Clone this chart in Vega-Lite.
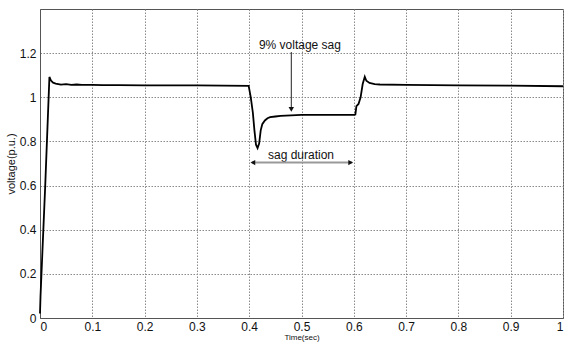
{
  "$schema": "https://vega.github.io/schema/vega-lite/v6.json",
  "width": 523,
  "height": 309,
  "autosize": {"type": "none"},
  "padding": {"left": 40, "top": 9, "right": 1, "bottom": 25},
  "background": "white",
  "config": {
    "font": "Liberation Sans",
    "view": {"stroke": "#555555", "strokeWidth": 1},
    "axis": {
      "domainColor": "#555555",
      "gridColor": "#8a8a8a",
      "gridDash": [1.5, 1.5],
      "gridWidth": 1,
      "ticks": false,
      "labelColor": "#111111",
      "labelFontSize": 12,
      "titleColor": "#111111",
      "titleFontWeight": "normal"
    }
  },
  "datasets": {
    "voltage": [
      {"t": 0, "v": 0.02},
      {"t": 0.001, "v": 0.1},
      {"t": 0.01, "v": 0.6},
      {"t": 0.018, "v": 1.092},
      {"t": 0.021, "v": 1.076},
      {"t": 0.025, "v": 1.066},
      {"t": 0.03, "v": 1.062},
      {"t": 0.035, "v": 1.06},
      {"t": 0.04, "v": 1.057},
      {"t": 0.05, "v": 1.06},
      {"t": 0.06, "v": 1.056},
      {"t": 0.07, "v": 1.058},
      {"t": 0.08, "v": 1.056},
      {"t": 0.1, "v": 1.056},
      {"t": 0.12, "v": 1.055},
      {"t": 0.15, "v": 1.055},
      {"t": 0.2, "v": 1.054},
      {"t": 0.25, "v": 1.054},
      {"t": 0.3, "v": 1.054},
      {"t": 0.35, "v": 1.053},
      {"t": 0.399, "v": 1.052},
      {"t": 0.403, "v": 1.0},
      {"t": 0.407, "v": 0.93},
      {"t": 0.41, "v": 0.85},
      {"t": 0.413, "v": 0.785},
      {"t": 0.416, "v": 0.77},
      {"t": 0.419, "v": 0.79},
      {"t": 0.422, "v": 0.85},
      {"t": 0.425, "v": 0.878},
      {"t": 0.43, "v": 0.895},
      {"t": 0.435, "v": 0.905},
      {"t": 0.44, "v": 0.91},
      {"t": 0.45, "v": 0.913},
      {"t": 0.46, "v": 0.916},
      {"t": 0.48, "v": 0.918},
      {"t": 0.5, "v": 0.92},
      {"t": 0.55, "v": 0.92},
      {"t": 0.6, "v": 0.92},
      {"t": 0.603, "v": 0.922},
      {"t": 0.605, "v": 0.96},
      {"t": 0.609, "v": 0.97},
      {"t": 0.613, "v": 1.0},
      {"t": 0.617, "v": 1.06},
      {"t": 0.621, "v": 1.093},
      {"t": 0.624, "v": 1.075},
      {"t": 0.63, "v": 1.065},
      {"t": 0.64, "v": 1.06},
      {"t": 0.65, "v": 1.058},
      {"t": 0.7, "v": 1.056},
      {"t": 0.8, "v": 1.054},
      {"t": 0.9, "v": 1.053},
      {"t": 1.0, "v": 1.05}
    ]
  },
  "layer": [
    {
      "data": {"name": "voltage"},
      "mark": {"type": "line", "color": "#000000", "strokeWidth": 1.8},
      "encoding": {
        "x": {
          "field": "t", "type": "quantitative",
          "scale": {"domain": [0, 1], "nice": false},
          "axis": {"values": [0, 0.1, 0.2, 0.3, 0.4, 0.5, 0.6, 0.7, 0.8, 0.9, 1], "format": "~g", "title": "Time(sec)", "titleFontSize": 8, "titlePadding": 1, "labelPadding": 3}
        },
        "y": {
          "field": "v", "type": "quantitative",
          "scale": {"domain": [0, 1.4], "nice": false},
          "axis": {"values": [0, 0.2, 0.4, 0.6, 0.8, 1, 1.2], "format": "~g", "title": "voltage(p.u.)", "titleFontSize": 11, "titlePadding": 3, "labelPadding": 4}
        }
      }
    },
    {
      "data": {"values": [{}]},
      "mark": {"type": "text", "fontSize": 12, "color": "#111111", "align": "center", "baseline": "middle"},
      "encoding": {"x": {"datum": 0.497}, "y": {"datum": 1.237}, "text": {"value": "9% voltage sag"}}
    },
    {
      "data": {"values": [{}]},
      "mark": {"type": "rule", "color": "#222222", "strokeWidth": 1},
      "encoding": {"x": {"datum": 0.4805}, "y": {"datum": 1.205}, "y2": {"datum": 0.945}}
    },
    {
      "data": {"values": [{}]},
      "mark": {"type": "point", "shape": "triangle-down", "filled": true, "color": "#111111", "size": 30, "opacity": 1},
      "encoding": {"x": {"datum": 0.4805}, "y": {"datum": 0.945}}
    },
    {
      "data": {"values": [{}]},
      "mark": {"type": "text", "fontSize": 12, "color": "#111111", "align": "center", "baseline": "middle"},
      "encoding": {"x": {"datum": 0.499}, "y": {"datum": 0.74}, "text": {"value": "sag duration"}}
    },
    {
      "data": {"values": [{}]},
      "mark": {"type": "rule", "color": "#999999", "strokeWidth": 2},
      "encoding": {"x": {"datum": 0.405}, "x2": {"datum": 0.597}, "y": {"datum": 0.704}}
    },
    {
      "data": {"values": [{"s": "triangle-left", "x": 0.407}, {"s": "triangle-right", "x": 0.594}]},
      "mark": {"type": "point", "filled": true, "color": "#111111", "size": 30, "opacity": 1},
      "encoding": {"x": {"field": "x", "type": "quantitative"}, "y": {"datum": 0.704}, "shape": {"field": "s", "type": "nominal", "scale": null}}
    }
  ]
}
